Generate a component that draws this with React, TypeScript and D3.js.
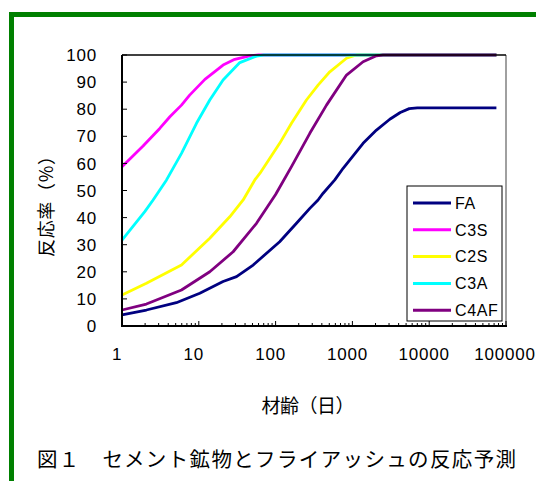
import React from 'react';
import * as d3 from 'd3';

// data (days, reaction rate %)
const faDays = [1, 2.08, 5.1, 10.3, 20.7, 31, 51, 113, 187, 279, 357, 416, 590, 757, 1378, 2057, 3070, 4200, 5500, 7000, 75000];
const faRate = [4.1, 5.9, 8.6, 12.1, 16.4, 18.2, 22.5, 31.1, 37.9, 43.4, 46.5, 49, 53.9, 58.2, 67.4, 72.3, 76.3, 78.8, 80.2, 80.5, 80.5];
const c3sDays = [1, 1.88, 3.1, 4.2, 5.95, 7.6, 12, 20.7, 29.4, 46, 60, 75000];
const c3sRate = [58.8, 66.4, 72.9, 77.2, 81.5, 85.2, 91, 96.3, 98.4, 99.7, 100, 100];
const c2sDays = [1, 2.08, 5.95, 13.9, 25.3, 37.8, 53.6, 62.3, 113, 161, 252, 357, 508, 838, 1125, 75000];
const c2sRate = [11.4, 15.8, 22.5, 32.4, 40.3, 46.5, 53.9, 56.3, 67.4, 74.8, 83.4, 88.9, 93.8, 98.8, 100, 100];
const c3aDays = [1, 1.98, 2.54, 3.8, 5.95, 9.33, 13.9, 20.7, 34.2, 56.5, 70, 75000];
const c3aRate = [31.7, 42.2, 46.5, 53.9, 63.7, 74.8, 83.4, 90.8, 97.2, 99.6, 100, 100];
const c4afDays = [1, 2.08, 5.95, 13.9, 28, 56.4, 100, 161, 279, 460, 838, 1378, 2057, 2500, 75000];
const c4afRate = [5.9, 8.1, 13.3, 20, 27.4, 37.9, 48.5, 58.8, 71.1, 81.5, 92.6, 97.5, 99.7, 100, 100];

const seriesNames = ['FA', 'C3S', 'C2S', 'C3A', 'C4AF'];
const seriesColors = ['#000080', '#ff00ff', '#ffff00', '#00ffff', '#800080'];
const seriesDays = [faDays, c3sDays, c2sDays, c3aDays, c4afDays];
const seriesRates = [faRate, c3sRate, c2sRate, c3aRate, c4afRate];

const xTicks = [1, 10, 100, 1000, 10000, 100000];
const yTicks = [0, 10, 20, 30, 40, 50, 60, 70, 80, 90, 100];

const W = 536;
const H = 481;
const margin = { top: 55, right: 30, bottom: 155, left: 122 };
const innerW = 506 - margin.left;
const innerH = 326 - margin.top;

export default function App() {
  const x = d3.scaleLog().domain([1, 100000]).range([0, innerW]);
  const y = d3.scaleLinear().domain([0, 100]).range([innerH, 0]);
  const line = d3
    .line<[number, number]>()
    .x((d) => x(d[0]))
    .y((d) => y(d[1]));

  const minorTicks: number[] = [];
  for (let e = 0; e < 5; e++) {
    for (let m = 2; m <= 9; m++) minorTicks.push(m * Math.pow(10, e));
  }

  const num = 'Liberation Sans, Arial, sans-serif';
  const jp = '"Noto Sans CJK JP", sans-serif';

  return (
    <svg width={W} height={H} style={{ position: 'absolute', left: 0, top: 0, background: '#fff' }}>
      {/* green frame */}
      <rect x={11.5} y={14.5} width={W} height={H} fill="none" stroke="#008000" strokeWidth={5} />

      <g transform={`translate(${margin.left},${margin.top})`}>
        {/* lines */}
        {seriesNames.map((name, i) => (
          <path
            key={name}
            d={line(seriesDays[i].map((d, j) => [d, seriesRates[i][j]] as [number, number])) || ''}
            fill="none"
            stroke={seriesColors[i]}
            strokeWidth={2.8}
            strokeLinejoin="round"
          />
        ))}

        {/* frame */}
        <line x1={innerW} x2={innerW} y1={0} y2={innerH} stroke="#808080" strokeWidth={1.5} />
        <line x1={0} x2={innerW} y1={0} y2={0} stroke="#000" strokeWidth={1.5} />
        <line x1={0} x2={0} y1={0} y2={innerH + 1} stroke="#000" strokeWidth={2} />
        <line x1={-1} x2={innerW + 1} y1={innerH} y2={innerH} stroke="#000" strokeWidth={2} />

        {/* y ticks */}
        {yTicks.map((t) => (
          <g key={t} transform={`translate(0,${y(t)})`}>
            <line x1={0} x2={5} stroke="#000" strokeWidth={1} />
            <text x={-25} dy="0.36em" textAnchor="end" fontFamily={num} fontSize={17} letterSpacing={0.8}>
              {t}
            </text>
          </g>
        ))}

        {/* x ticks */}
        {minorTicks.map((t) => (
          <line key={'m' + t} x1={x(t)} x2={x(t)} y1={innerH} y2={innerH - 3} stroke="#000" strokeWidth={1} />
        ))}
        {xTicks.map((t) => (
          <g key={t} transform={`translate(${x(t)},${innerH})`}>
            <line y1={0} y2={-5} stroke="#000" strokeWidth={1} />
            <text x={t === 100000 ? -1 : -5} y={34} textAnchor="middle" fontFamily={num} fontSize={17} letterSpacing={0.8}>
              {t}
            </text>
          </g>
        ))}
      </g>

      {/* legend */}
      <g>
        <rect x={407} y={186} width={95} height={135} fill="#fff" stroke="#000" strokeWidth={1} />
        {seriesNames.map((name, i) => (
          <g key={name} transform={`translate(413,${203 + i * 26.8})`}>
            <line x1={0} x2={38} stroke={seriesColors[i]} strokeWidth={3} />
            <text x={42} dy="0.36em" fontFamily={num} fontSize={16} letterSpacing={0.6}>
              {name}
            </text>
          </g>
        ))}
      </g>

      {/* axis titles */}
      <text
        transform="translate(53,202) rotate(-90)"
        textAnchor="middle"
        fontFamily={jp}
        fontSize={18}
        textLength={110}
        lengthAdjust="spacing"
      >
        反応率（%）
      </text>
      <text x={308} y={413} textAnchor="middle" fontFamily={jp} fontSize={19} textLength={93} lengthAdjust="spacing">
        材齢（日）
      </text>

      {/* caption */}
      <text x={37} y={467} fontFamily={jp} fontSize={20.5} textLength={479} lengthAdjust="spacing">
        図１　セメント鉱物とフライアッシュの反応予測
      </text>
    </svg>
  );
}
